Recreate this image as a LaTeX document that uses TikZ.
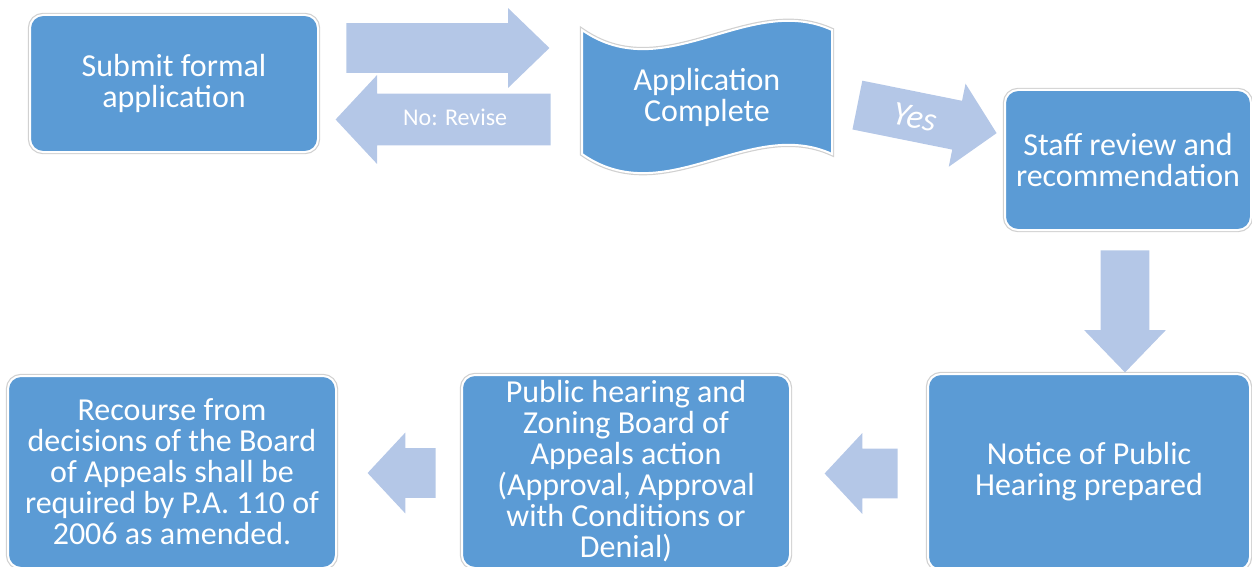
\documentclass[tikz,border=0pt]{standalone}
\usepackage{fontspec}
\setmainfont{Carlito}
\usepackage{tikz}
\usetikzlibrary{shapes.arrows,positioning}
\definecolor{boxblue}{RGB}{91,155,213}
\definecolor{arrowblue}{RGB}{180,199,231}

\begin{document}
\begin{tikzpicture}[x=0.5pt,y=-0.5pt,
  outline/.style={fill=boxblue,draw=white,line width=1pt,preaction={draw=black!18,line width=2.2pt}},
  box/.style={outline,rounded corners=6.5pt,text=white,align=center,inner sep=0pt,
    font=\fontsize{16}{15.5}\selectfont},
  blockarrow/.style={single arrow,fill=arrowblue,draw=none,inner xsep=0pt,anchor=tail,
    text=white,font=\fontsize{12}{14}\selectfont}]
\useasboundingbox (0,0) rectangle (1252,567);
% boxes
\node[box,minimum width=144pt,minimum height=68.5pt] (submit) at (174,83.5) {Submit formal\\application};
\node[box,minimum width=123pt,minimum height=70pt] (staff) at (1128,160) {Staff review and\\recommendation};
\node[box,minimum width=161pt,minimum height=98pt] (notice) at (1089,472) {Notice of Public\\Hearing prepared};
\node[box,minimum width=164pt,minimum height=96.5pt] (hearing) at (626,471.5)
  {Public hearing and\\Zoning Board of\\Appeals action\\(Approval, Approval\\with Conditions or\\Denial)};
\node[box,minimum width=164pt,minimum height=96pt] (recourse) at (172,472)
  {Recourse from\\decisions of the Board\\of Appeals shall be\\required by P.A. 110 of\\2006 as amended.};
% wave shaped check
\draw[outline] (582,30) .. controls (665,88) and (749,-8) .. (832,30) -- (832,154)
  .. controls (749,116) and (665,212) .. (582,154) -- cycle;
\node[text=white,align=center,font=\fontsize{16}{15.5}\selectfont] (complete) at (707,97) {Application\\Complete};
% block arrows
\node[blockarrow,inner ysep=12.25pt,minimum height=101.5pt,minimum width=39.5pt,
  single arrow head extend=7.5pt,single arrow tip angle=88] (fwd) at (346,48) {};
\node[blockarrow,shape border rotate=180,text height=8pt,text depth=2pt,inner ysep=7.75pt,
  minimum height=107.5pt,minimum width=44pt,single arrow head extend=9.25pt,
  single arrow tip angle=94] (revise) at (551,119.5) {No: Revise};
\node[blockarrow,rotate=-11.4,text height=11pt,text depth=0pt,inner ysep=6.75pt,
  minimum height=71pt,minimum width=42pt,single arrow head extend=8.75pt,
  single arrow tip angle=93,font=\fontsize{17}{19}\selectfont\itshape] (yes) at (857,105) {Yes};
\node[blockarrow,shape border rotate=270,inner sep=12pt,minimum height=61pt,minimum width=40.5pt,
  single arrow head extend=8.25pt,single arrow tip angle=88] (down) at (1125,250) {};
\node[blockarrow,shape border rotate=180,inner ysep=12.25pt,minimum height=36.5pt,minimum width=40pt,
  single arrow head extend=7.75pt,single arrow tip angle=94] (back1) at (898,473.5) {};
\node[blockarrow,shape border rotate=180,inner ysep=12.25pt,minimum height=34pt,minimum width=40pt,
  single arrow head extend=7.75pt,single arrow tip angle=94] (back2) at (436,473) {};
\end{tikzpicture}
\end{document}
